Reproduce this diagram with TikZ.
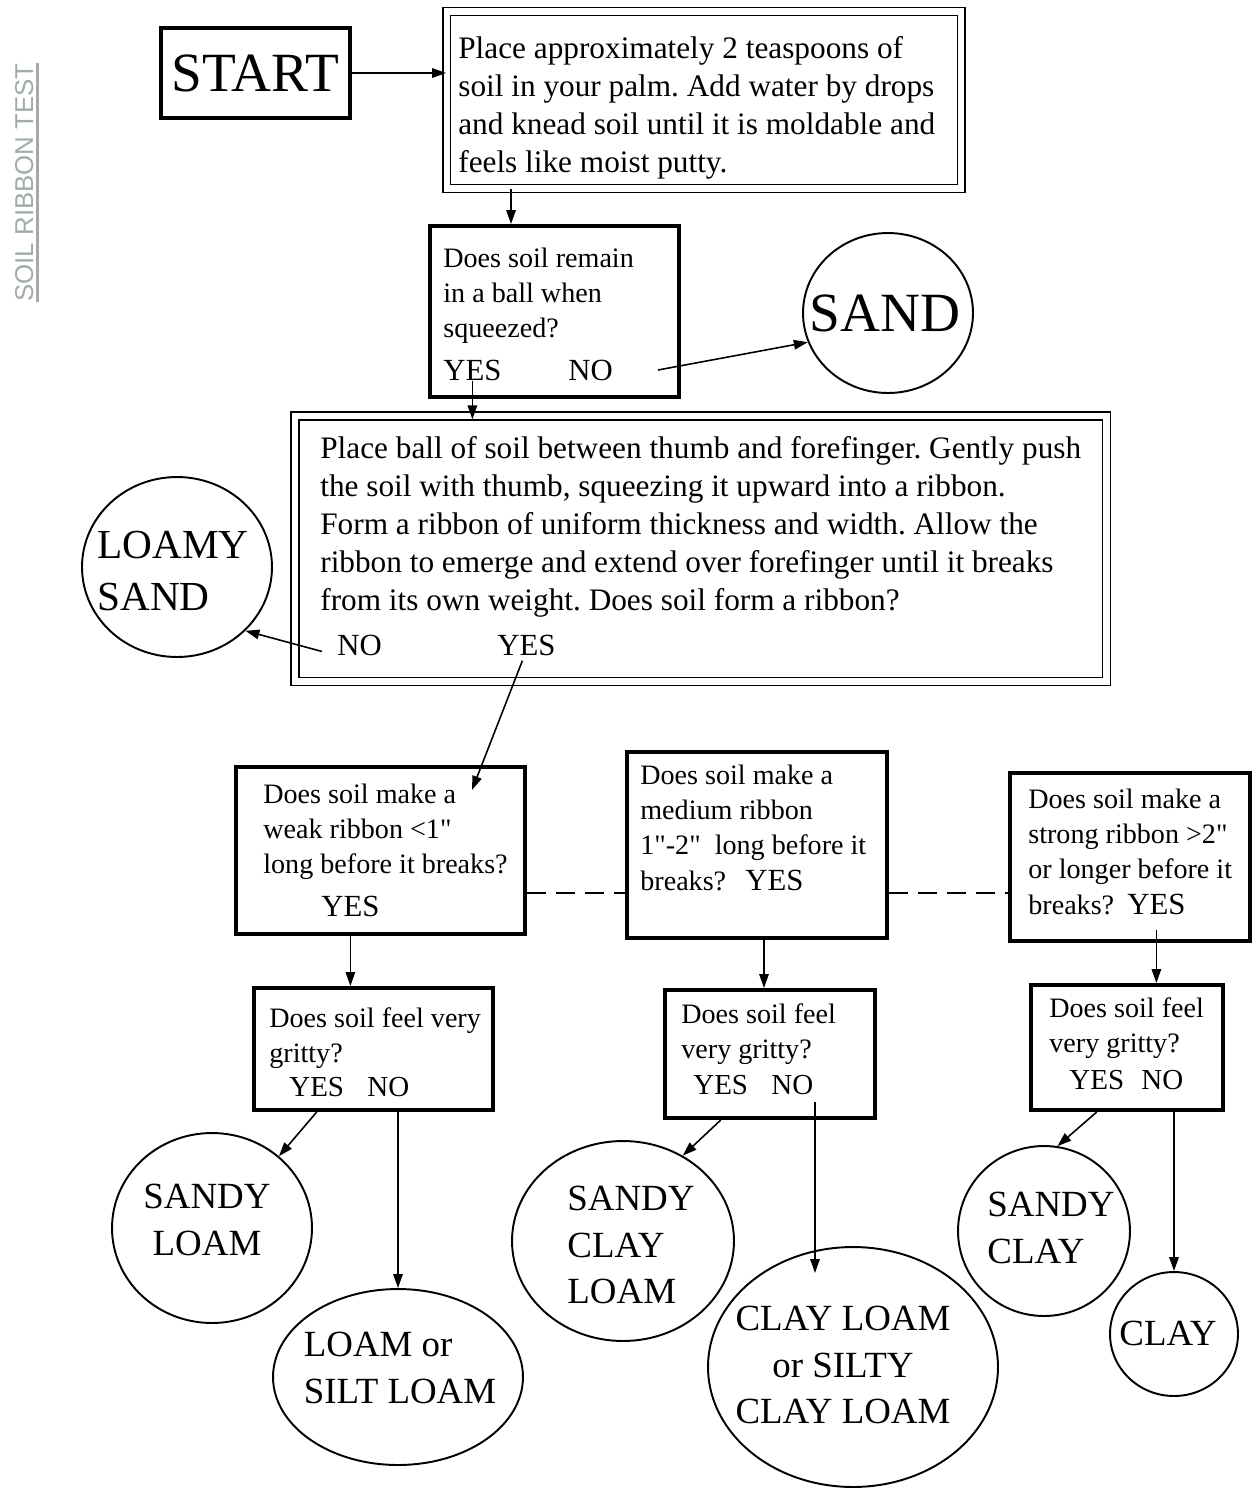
\documentclass[tikz,border=0pt]{standalone}
\usepackage{fontspec}
\setmainfont{Liberation Serif}
\newfontfamily\sidefont{Liberation Sans}
\usetikzlibrary{arrows.meta,shapes.geometric}
\definecolor{sidegray}{RGB}{162,170,172}
\newcommand\sq{\XeTeXglyph\the\XeTeXcharglyph"22\relax}
\frenchspacing
\begin{document}
\begin{tikzpicture}[x=0.02cm,y=-0.02cm,
  thickbox/.style={draw,line width=2.3pt,rectangle,inner sep=0pt},
  dblbox/.style={draw,line width=0.8pt,double,double distance=0.13cm,rectangle,inner sep=0pt},
  oval/.style={draw,line width=1.1pt,ellipse,inner sep=0pt},
  ovaltext/.style={inner sep=0pt,font=\fontsize{21}{26.6}\selectfont},
  bodytext/.style={anchor=north west,inner sep=0pt,align=left,font=\fontsize{17.8}{21.6}\selectfont},
  qtext/.style={anchor=north west,inner sep=0pt,align=left,font=\fontsize{16}{20.1}\selectfont},
  yn/.style={anchor=base west,inner sep=0pt,font=\fontsize{17.5}{20}\selectfont},
  gyn/.style={anchor=base west,inner sep=0pt,font=\fontsize{16.5}{20}\selectfont},
  arr/.style={line width=0.9pt,-{Triangle[length=0.28cm,width=0.19cm]}},
  link/.style={line width=0.9pt,dash pattern=on 0.38cm off 0.2cm},
  sidelabel/.style={rotate=90,anchor=base,inner xsep=0pt,inner ysep=2.2pt,text=sidegray,font=\sidefont\fontsize{14.7}{16}\selectfont}
]
\useasboundingbox (0,0) rectangle (1259,1489);
\fill[white] (0,0) rectangle (1259,1489);

% side label
\node[sidelabel] (side) at (33,182.5) {SOIL RIBBON TEST};
\draw[sidegray,line width=1.2pt] (side.south west) -- (side.south east);

% start
\node[thickbox,minimum width=3.78cm,minimum height=1.8cm,font=\fontsize{31.5}{34}\selectfont] (start) at (255.5,73) {START};

% box 1
\node[dblbox,minimum width=10.29cm,minimum height=3.54cm] (b1) at (704,100) {};
\node[bodytext] (t1) at (458,31.3) {\strut Place approximately 2 teaspoons of\\soil in your palm. Add water by drops\\and knead soil until it is moldable and\\feels like moist putty.};

% box 2
\node[thickbox,minimum width=4.98cm,minimum height=3.42cm] (b2) at (554.5,311.5) {};
\node[qtext] (t2) at (443,242.2) {\strut Does soil remain\\in a ball when\\squeezed?};
\node[yn] (y2) at (443,380) {YES};
\node[yn] (n2) at (568,380) {NO};

% sand
\node[oval,minimum width=3.4cm,minimum height=3.2cm] (sand) at (888,313) {};
\node[ovaltext,font=\fontsize{31.5}{34}\selectfont] (sandT) at (885,313) {SAND};

% box 3
\node[dblbox,minimum width=16.23cm,minimum height=5.31cm] (b3) at (700.75,548.75) {};
\node[bodytext] (t3) at (320,431.3) {\strut Place ball of soil between thumb and forefinger. Gently push\\the soil with thumb, squeezing it upward into a ribbon.\\Form a ribbon of uniform thickness and width. Allow the\\ribbon to emerge and extend over forefinger until it breaks\\from its own weight. Does soil form a ribbon?};
\node[yn] (n3) at (337,655) {NO};
\node[yn] (y3) at (497,655) {YES};

% loamy sand
\node[oval,minimum width=3.8cm,minimum height=3.6cm] (lsand) at (177,567) {};
\node[ovaltext,align=left,font=\fontsize{23.5}{30}\selectfont] (lsandT) at (173,571) {LOAMY\\SAND};

% ribbon boxes
\node[thickbox,minimum width=5.78cm,minimum height=3.34cm] (b4) at (380.5,850.5) {};
\node[qtext] (t4) at (263,778.2) {\strut Does soil make a\\weak ribbon <1\sq\\long before it breaks?};
\node[yn] (y4) at (321,916) {YES};

\node[thickbox,minimum width=5.2cm,minimum height=3.72cm] (b5) at (757,845) {};
\node[qtext] (t5) at (640,759.2) {\strut Does soil make a\\medium ribbon\\1\sq-2\sq\ \ long before it\\breaks?};
\node[yn] (y5) at (745,890.5) {YES};

\node[thickbox,minimum width=4.8cm,minimum height=3.36cm] (b6) at (1130,857) {};
\node[qtext] (t6) at (1028,783.2) {\strut Does soil make a\\strong ribbon >2\sq\\or longer before it\\breaks?};
\node[yn] (y6) at (1127,914.5) {YES};

% gritty boxes
\node[thickbox,minimum width=4.78cm,minimum height=2.44cm] (g1) at (373.5,1049) {};
\node[qtext] (tg1) at (269,1002.2) {\strut Does soil feel very\\gritty?};
\node[gyn] (gy1) at (289,1096) {YES};
\node[gyn] (gn1) at (367,1096) {NO};

\node[thickbox,minimum width=4.2cm,minimum height=2.56cm] (g2) at (770,1054) {};
\node[qtext] (tg2) at (681,998.2) {\strut Does soil feel\\very gritty?};
\node[gyn] (gy2) at (693,1094) {YES};
\node[gyn] (gn2) at (771,1094) {NO};

\node[thickbox,minimum width=3.84cm,minimum height=2.5cm] (g3) at (1127,1047.5) {};
\node[qtext] (tg3) at (1049,992.2) {\strut Does soil feel\\very gritty?};
\node[gyn] (gy3) at (1069,1089) {YES};
\node[gyn] (gn3) at (1141,1089) {NO};

% end ovals
\node[oval,minimum width=4.0cm,minimum height=3.8cm] (sl) at (212,1228) {};
\node[ovaltext,align=center] (slT) at (207,1220) {SANDY\\LOAM};
\node[oval,minimum width=5.0cm,minimum height=3.52cm] (ls) at (398,1377) {};
\node[ovaltext,align=left] (lsT) at (400,1368) {LOAM or\\SILT LOAM};
\node[oval,minimum width=4.44cm,minimum height=4.0cm] (scl) at (623,1241) {};
\node[ovaltext,align=left] (sclT) at (631,1245) {SANDY\\CLAY\\LOAM};
\node[oval,minimum width=5.8cm,minimum height=4.8cm] (cl) at (853,1367) {};
\node[ovaltext,align=center] (clT) at (843,1365) {CLAY LOAM\\or SILTY\\CLAY LOAM};
\node[oval,minimum width=3.44cm,minimum height=3.4cm] (sc) at (1044,1231) {};
\node[ovaltext,align=left] (scT) at (1051,1228) {SANDY\\CLAY};
\node[oval,minimum width=2.56cm,minimum height=2.48cm] (c) at (1174,1334) {};
\node[ovaltext] (cT) at (1168,1333) {CLAY};

% connectors
\coordinate (w4tip) at (472,790);
\coordinate (cltip) at (815,1273);
\draw[arr] (start.east) -- (start.east -| b1.west);
\draw[arr] ([xshift=-3.86cm]b1.south) -- ([xshift=-3.86cm]b1.south |- b2.north);
\draw[arr,shorten >=-0.08cm] (y2.south) -- (y2.south |- b3.north);
\draw[arr] ([xshift=0.9cm]n2.east) -- (sand.200);
\draw[arr] ([xshift=-0.3cm,yshift=-0.13cm]n3.west) -- (lsand.-43);
\draw[arr] ([xshift=-0.08cm,yshift=-0.1cm]y3.south) -- (w4tip);
\draw[link] ([yshift=-0.85cm]b4.east) -- ([yshift=-0.85cm]b4.east -| b5.west);
\draw[link] ([yshift=-0.85cm]b4.east -| b5.east) -- ([yshift=-0.85cm]b4.east -| b6.west);
\draw[arr] (y4.south |- b4.south) -- (y4.south |- g1.north);
\draw[arr] ([xshift=0.14cm]b5.south) -- ([xshift=0.14cm]b5.south |- g2.north);
\draw[arr] ([yshift=-0.3cm]y6.south) -- (y6.south |- g3.north);
\draw[arr] (gy1.south |- g1.south) -- (sl.47);
\draw[arr] (ls.north |- g1.south) -- (ls.north);
\draw[arr] (gy2.south |- g2.south) -- (scl.55);
\draw[arr] ([yshift=-0.15cm]cltip |- gn2.south) -- (cltip);
\draw[arr] (gy3.south |- g3.south) -- (sc.81);
\draw[arr] (c.north |- g3.south) -- (c.north);
\end{tikzpicture}
\end{document}
